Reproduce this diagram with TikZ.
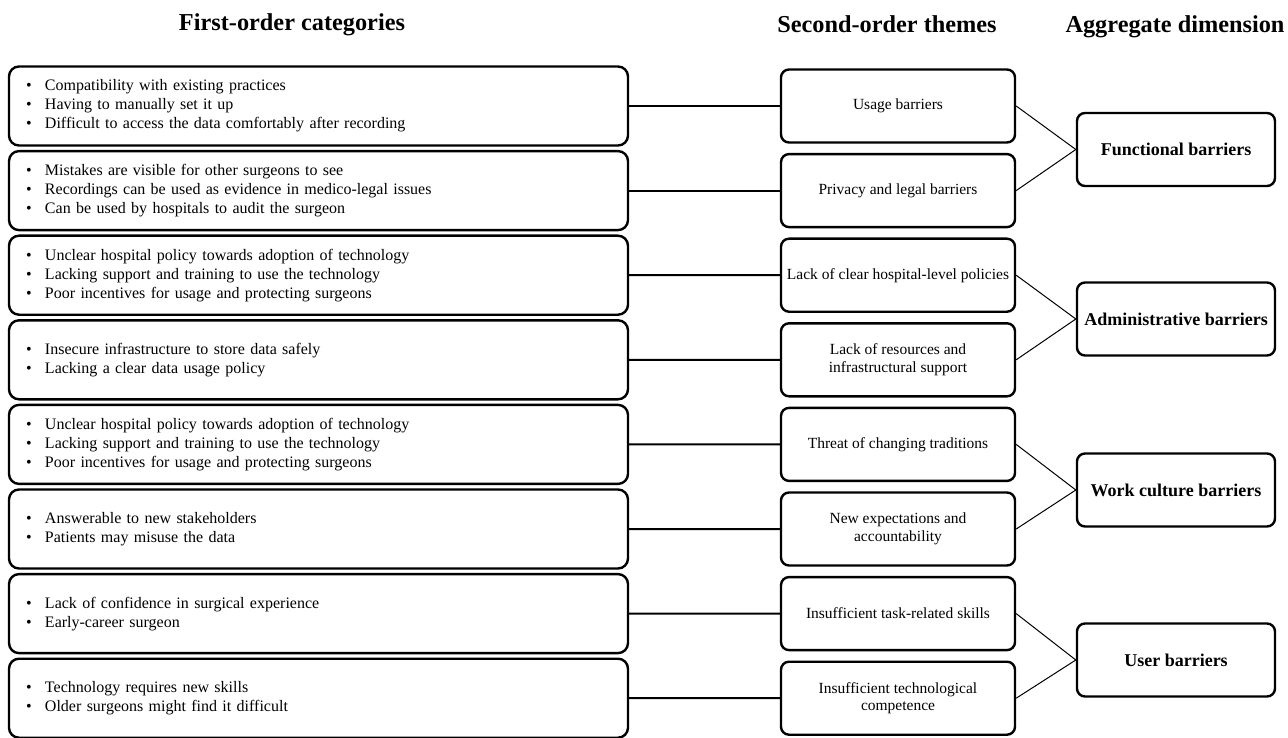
\documentclass[tikz,border=0pt]{standalone}
\usepackage{fontspec}
\setmainfont{Liberation Serif}
\tikzset{
  heading/.style = {anchor=base, font=\fontsize{24.3}{27}\selectfont\bfseries},
  catbox/.style = {draw, line width=2.4pt, rounded corners=10pt,
    minimum width=619pt, minimum height=79pt, text width=585pt,
    inner xsep=17pt, align=left, font=\fontsize{16}{19}\selectfont},
  themebox/.style = {draw, line width=2.4pt, rounded corners=8pt,
    minimum width=234pt, minimum height=73pt, inner xsep=2pt,
    align=center, font=\fontsize{15.5}{17.5}\selectfont},
  dimbox/.style = {draw, line width=2.4pt, rounded corners=8pt,
    minimum width=198pt, minimum height=73pt,
    align=center, font=\fontsize{18}{20}\selectfont\bfseries},
  link/.style = {line width=2pt},
  thinlink/.style = {line width=1pt}
}
\newcommand{\itm}[1]{\makebox[19pt][l]{\textbullet}#1}

\begin{document}
\begin{tikzpicture}[x=1pt,y=-1pt]
  \useasboundingbox (0,0) rectangle (1288,738);
  % headings
  \node[heading] (h1) at (292,31) {First-order categories};
  \node[heading] (h2) at (887,32.5) {Second-order themes};
  \node[heading] (h3) at (1175,32.5) {Aggregate dimension};
  % first-order categories
  \node[catbox] (c1) at (318.5,106) {\itm{Compatibility with existing practices}\\\itm{Having to manually set it up}\\\itm{Difficult to access the data comfortably after recording}};
  \node[catbox] (c2) at (318.5,190.6) {\itm{Mistakes are visible for other surgeons to see}\\\itm{Recordings can be used as evidence in medico-legal issues}\\\itm{Can be used by hospitals to audit the surgeon}};
  \node[catbox] (c3) at (318.5,275.2) {\itm{Unclear hospital policy towards adoption of technology}\\\itm{Lacking support and training to use the technology}\\\itm{Poor incentives for usage and protecting surgeons}};
  \node[catbox] (c4) at (318.5,359.8) {\itm{Insecure infrastructure to store data safely}\\\itm{Lacking a clear data usage policy}};
  \node[catbox] (c5) at (318.5,444.4) {\itm{Unclear hospital policy towards adoption of technology}\\\itm{Lacking support and training to use the technology}\\\itm{Poor incentives for usage and protecting surgeons}};
  \node[catbox] (c6) at (318.5,529) {\itm{Answerable to new stakeholders}\\\itm{Patients may misuse the data}};
  \node[catbox] (c7) at (318.5,613.6) {\itm{Lack of confidence in surgical experience}\\\itm{Early-career surgeon}};
  \node[catbox] (c8) at (318.5,698.2) {\itm{Technology requires new skills}\\\itm{Older surgeons might find it difficult}};
  % second-order themes
  \foreach \i/\txt in {1/{Usage barriers},2/{Privacy and legal barriers},
      3/{Lack of clear hospital-level policies},4/{Lack of resources and\\infrastructural support},
      5/{Threat of changing traditions},6/{New expectations and\\accountability},
      7/{Insufficient task-related skills},8/{Insufficient technological\\competence}}
    {\node[themebox] (t\i) at (898,{106+84.6*(\i-1)}) {\txt};}
  % aggregate dimensions
  \node[dimbox] (d1) at (1176,149.5) {Functional barriers};
  \node[dimbox] (d2) at (1176,319) {Administrative barriers};
  \node[dimbox] (d3) at (1176,490) {Work culture barriers};
  \node[dimbox] (d4) at (1176,660) {User barriers};
  % links
  \foreach \i in {1,...,8} {\draw[link] (c\i) -- (t\i);}
  \foreach \i/\j in {1/1,2/1,3/2,4/2,5/3,6/3,7/4,8/4} {\draw[thinlink] (t\i.east) -- (d\j.west);}
\end{tikzpicture}
\end{document}
